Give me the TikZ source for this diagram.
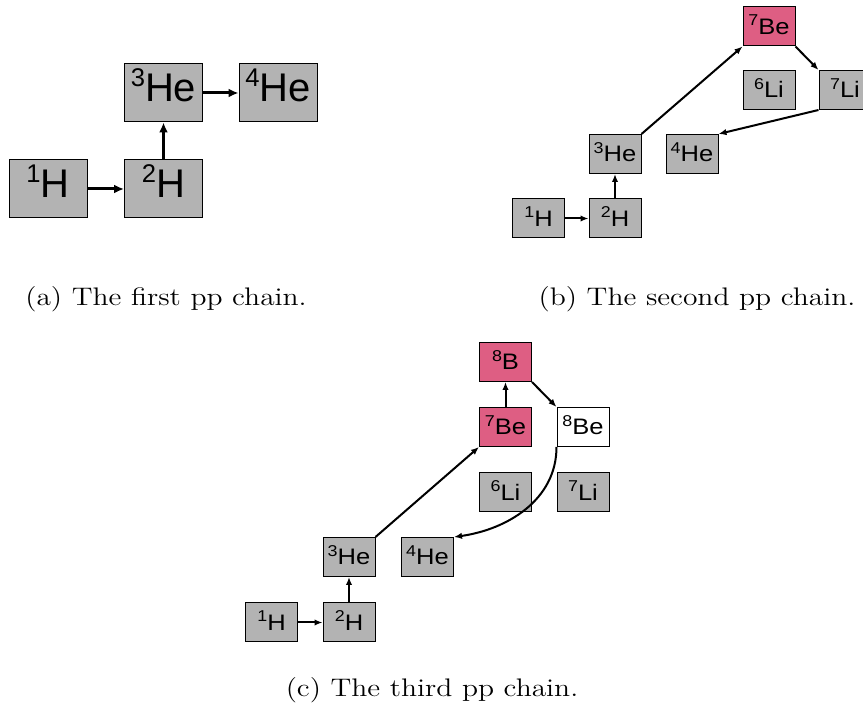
\documentclass[tikz,border=0pt]{standalone}
\usepackage{fontspec}
\usepackage{graphicx}
\usetikzlibrary{arrows.meta}
\newfontfamily\nucfont{Liberation Sans}
\definecolor{nucgray}{RGB}{179,179,179}
\definecolor{nucpink}{RGB}{222,94,131}
% horizontally widened lettering
\newcommand{\wideText}[1]{\scalebox{1.16}[1]{#1}}
% mass number set as a raised, reduced digit before the element symbol
\newcommand{\iso}[2]{\raisebox{0.38em}{\scalebox{0.64}{#1}}#2}
\newcommand{\isow}[2]{\scalebox{1.14}[1]{\raisebox{0.4em}{\scalebox{0.7}{#1}}#2}}
\tikzset{
  bignuc/.style={draw=black, line width=0.5pt, fill=nucgray, inner sep=0pt,
    minimum width=39pt, minimum height=29pt, text height=8.5pt, text depth=0pt,
    font=\nucfont\fontsize{20}{22}\selectfont},
  smallnuc/.style={draw=black, line width=0.5pt, fill=nucgray, inner sep=0pt,
    minimum width=26pt, minimum height=19.5pt, text height=8pt, text depth=0pt,
    font=\nucfont\fontsize{11.2}{13}\selectfont},
  hot/.style={fill=nucpink},
  blank/.style={fill=white},
  bigflow/.style={line width=1.5pt, -{Latex[length=5pt,width=4.5pt]}},
  flow/.style={line width=1pt, -{Latex[length=4pt,width=3.2pt]}},
  caption/.style={inner sep=0pt, font=\fontsize{12.7}{14}\selectfont}
}
\begin{document}
\begin{tikzpicture}[x=0.5pt, y=-0.5pt]
\useasboundingbox (0,0) rectangle (863,710);
\clip (0,0) rectangle (863,710);

% (a) first chain
\node[bignuc] (a1H)  at (48,189)    {\iso{1}{H}};
\node[bignuc] (a2H)  at (163.5,189) {\iso{2}{H}};
\node[bignuc] (a3He) at (163.5,93)  {\iso{3}{He}};
\node[bignuc] (a4He) at (278,93)    {\iso{4}{He}};
\draw[bigflow] (a1H) -- (a2H);
\draw[bigflow] (a2H) -- (a3He);
\draw[bigflow] (a3He) -- (a4He);
\node[caption] (capa) at (166,299) {\wideText{(a) The first pp chain.}};

% (b) second chain
\node[smallnuc] (b1H)  at (538.5,218.5) {\isow{1}{H}};
\node[smallnuc] (b2H)  at (615,218.5)   {\isow{2}{H}};
\node[smallnuc] (b3He) at (615,154)     {\isow{3}{He}};
\node[smallnuc] (b4He) at (692,154)     {\isow{4}{He}};
\node[smallnuc] (b6Li) at (769,90)      {\isow{6}{Li}};
\node[smallnuc] (b7Li) at (845,90)      {\isow{7}{Li}};
\node[smallnuc,hot] (b7Be) at (769,26.5) {\isow{7}{Be}};
\draw[flow] (b1H) -- (b2H);
\draw[flow] (b2H) -- (b3He);
\draw[flow] (b3He.north east) -- (b7Be.south west);
\draw[flow] (b7Be.south east) -- (b7Li.north west);
\draw[flow] (b7Li.south west) -- (b4He.north east);
\node[caption] (capb) at (697,299) {\wideText{(b) The second pp chain.}};

% (c) third chain
\node[smallnuc] (c1H)  at (271.5,622.5) {\isow{1}{H}};
\node[smallnuc] (c2H)  at (349,622.5)   {\isow{2}{H}};
\node[smallnuc] (c3He) at (349,557)     {\isow{3}{He}};
\node[smallnuc] (c4He) at (427.5,557)   {\isow{4}{He}};
\node[smallnuc] (c6Li) at (505.5,492.5) {\isow{6}{Li}};
\node[smallnuc] (c7Li) at (583,492.5)   {\isow{7}{Li}};
\node[smallnuc,hot] (c7Be) at (505.5,427) {\isow{7}{Be}};
\node[smallnuc,blank] (c8Be) at (583,427) {\isow{8}{Be}};
\node[smallnuc,hot] (c8B) at (505.5,362) {\isow{8}{B}};
\draw[flow] (c1H) -- (c2H);
\draw[flow] (c2H) -- (c3He);
\draw[flow] (c3He.north east) -- (c7Be.south west);
\draw[flow] (c7Be) -- (c8B);
\draw[flow] (c8B.south east) -- (c8Be.north west);
\draw[flow] (c8Be.south west) to[out=-90, in=8] (c4He.north east);
\node[caption] (capc) at (432,690) {\wideText{(c) The third pp chain.}};
\end{tikzpicture}
\end{document}
